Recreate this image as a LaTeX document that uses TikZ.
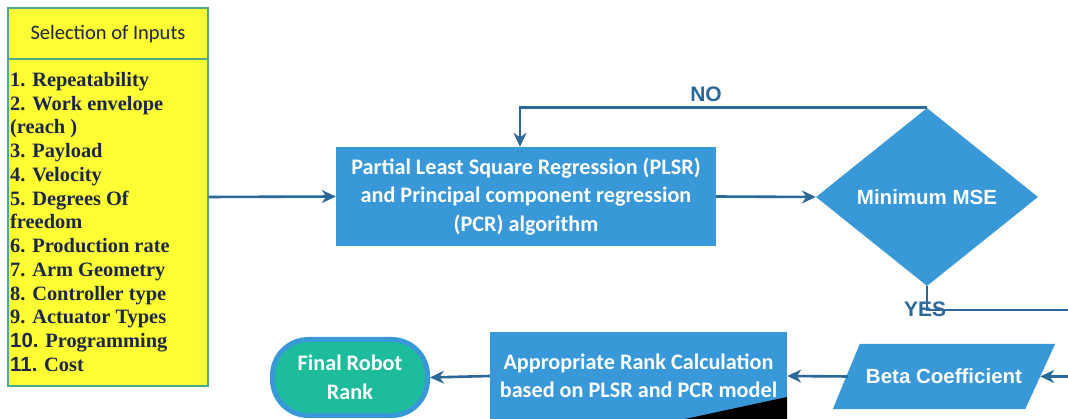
\documentclass[tikz,border=0pt]{standalone}
\usepackage{fontspec}
\setmainfont{Liberation Serif}
\newfontfamily\calfont{Carlito}
\newfontfamily\arfont{Liberation Sans}
\usetikzlibrary{shapes.geometric,positioning,arrows.meta,backgrounds}
\definecolor{flowblue}{RGB}{56,152,216}
\definecolor{linkblue}{RGB}{42,104,152}
\definecolor{inputyellow}{RGB}{255,255,51}
\definecolor{inputedge}{RGB}{78,168,140}
\definecolor{inputtext}{RGB}{28,38,70}
\definecolor{rankteal}{RGB}{28,188,156}

\begin{document}
\begin{tikzpicture}[x=1pt, y=-1pt, >={Stealth[length=14pt,width=13pt]},
    link/.style={->, draw=linkblue, line width=2.6pt},
    process/.style={rectangle, fill=flowblue, text=white, inner sep=0pt,
      font=\calfont\bfseries\fontsize{22.2}{28.5}\selectfont, align=center},
    decision/.style={diamond, fill=flowblue, text=white, inner sep=0pt,
      font=\arfont\bfseries\fontsize{20.5}{24}\selectfont},
    flag/.style={text=linkblue, font=\arfont\bfseries\fontsize{21}{24}\selectfont, inner sep=0pt}]
  \useasboundingbox (0,0) rectangle (1068,419);

  % inputs
  \node[draw=inputedge, fill=inputyellow, line width=1.4pt, minimum width=200, minimum height=378] (inputs) at (108,197) {};
  \node[text=inputtext, font=\calfont\fontsize{20.5}{24}\selectfont, inner sep=0pt] (title) at (108,34) {Selection of Inputs};
  \draw[inputedge, line width=1.4pt] (inputs.west |- 0,59) -- (inputs.east |- 0,59);
  \node[anchor=north west, align=left, inner sep=0pt, text=inputtext,
        font=\bfseries\fontsize{20.4}{23.75}\selectfont] (items) at (10,72) {%
    1. Repeatability\\ 2. Work envelope\\ (reach )\\ 3. Payload\\ 4. Velocity\\
    5. Degrees Of\\ freedom\\ 6. Production rate\\ 7. Arm Geometry\\
    8. Controller type\\ 9. Actuator Types\\ {\arfont 10.} Programming\\ {\arfont 11.} Cost};

  % main flow
  \node[process, minimum width=380, minimum height=99] (plsr) at (526,196.5)
    {Partial Least Square Regression (PLSR)\\ and Principal component regression\\ (PCR) algorithm};
  \node[decision, minimum width=222, minimum height=178] (mse) at (927,197) {Minimum MSE};
  \node[text=white, inner sep=0pt, minimum height=65, minimum width=192,
        font=\arfont\bfseries\fontsize{20.5}{24}\selectfont] (beta) at (944,376.5) {Beta Coefficient};
  \begin{scope}[on background layer]
    \fill[flowblue] ([xshift=-15pt]beta.south west) -- ([xshift=12pt]beta.north west)
      -- ([xshift=15pt]beta.north east) -- ([xshift=-15pt]beta.south east) -- cycle;
  \end{scope}
  \node[process, minimum width=297, minimum height=88] (rank) at (638.5,376)
    {Appropriate Rank Calculation\\ based on PLSR and PCR model};
  \node[rectangle, rounded corners=36pt, draw=flowblue, line width=5pt, fill=rankteal, text=white,
        minimum width=155, minimum height=76, align=center,
        font=\calfont\bfseries\fontsize{22.2}{28.5}\selectfont] (final) at (350,377.5) {Final Robot\\ Rank};
  \fill (685,419) -- (787,397) -- (787,419) -- cycle;

  \coordinate (yesout) at (1068,310);
  \coordinate (betain) at (1068,376.5);

  \draw[link] (inputs.east) -- (plsr.west);
  \draw[link] (plsr.east) -- (mse.west);
  \draw[link] (mse.north) -| ([xshift=-6pt]plsr.north);
  \draw[link, -] (mse.south) |- (yesout);
  \draw[link] (betain) -- (beta.east);
  \draw[link] (beta.west) -- (rank.east);
  \draw[link] (rank.west) -- (final.east);

  \node[flag] (no) at (706,94) {NO};
  \node[flag] (yes) at (925,309) {YES};
\end{tikzpicture}
\end{document}
